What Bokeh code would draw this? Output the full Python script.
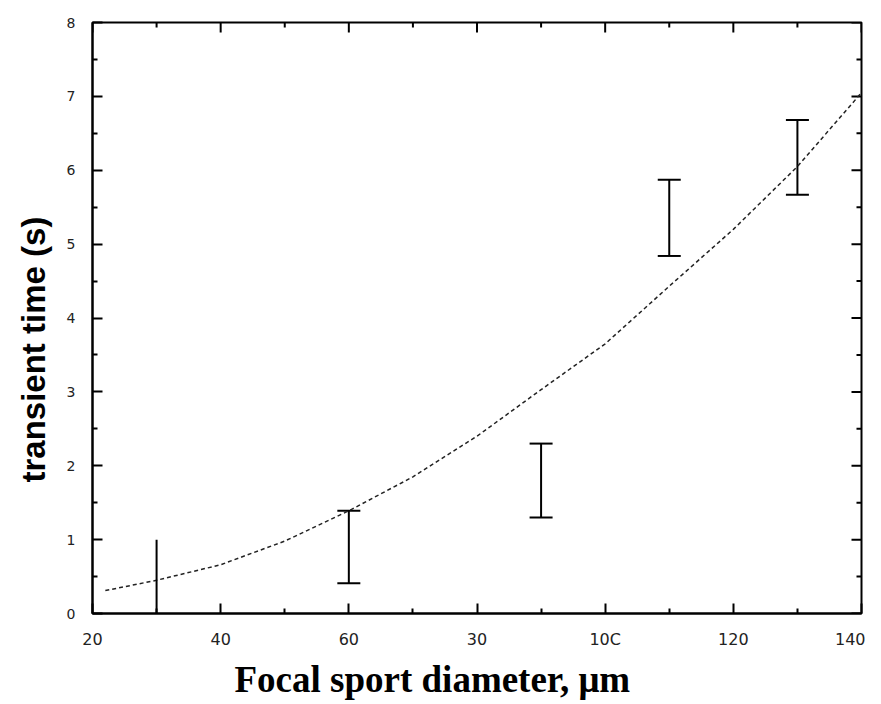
import numpy as np
from bokeh.plotting import figure
from bokeh.models import (Range1d, FixedTicker, LinearAxis, Whisker, TeeHead,
                          ColumnDataSource, Title)
from bokeh.embed import file_html
from bokeh.resources import INLINE

# ---- data ----
curve_x = [22, 30, 40, 50, 60, 70, 80, 90, 100, 110, 120, 130, 140]
curve_y = [0.31, 0.45, 0.66, 0.98, 1.39, 1.85, 2.40, 3.03, 3.65, 4.43, 5.20, 6.05, 7.05]

bar_x = [60, 90, 110, 130]
bar_lower = [0.41, 1.30, 4.84, 5.67]
bar_upper = [1.39, 2.30, 5.87, 6.68]

first_bar_x = [30]
first_bar_lower = [0.0]
first_bar_upper = [1.0]

x_ticks = [20, 40, 60, 80, 100, 120, 140]
x_tick_labels = ["20", "40", "60", "30", "10C", "120", "140"]
x_minor = [30, 50, 70, 90, 110, 130]
y_ticks = [0, 1, 2, 3, 4, 5, 6, 7, 8]
y_minor = [0.5, 1.5, 2.5, 3.5, 4.5, 5.5, 6.5, 7.5]

x_title = "Focal sport diameter, \u03bcm"
y_title = "transient time (s)"

X0, X1, Y0, Y1 = 20, 140, 0, 8

p = figure(width=865, height=704, output_backend="svg", toolbar_location=None,
           x_range=Range1d(X0, X1), y_range=Range1d(Y0, Y1),
           min_border_left=92, min_border_top=22, min_border_right=4,
           min_border_bottom=91)
p.xaxis.visible = False
p.yaxis.visible = False
p.grid.visible = False
p.outline_line_color = "black"
p.outline_line_width = 2
p.background_fill_color = "white"
p.border_fill_color = "white"


def style_axis(ax, font_size, standoff):
    ax.axis_line_color = "black"
    ax.axis_line_width = 2
    ax.major_tick_in = 10
    ax.major_tick_out = 0
    ax.minor_tick_in = 5
    ax.minor_tick_out = 0
    ax.major_tick_line_width = 2
    ax.minor_tick_line_width = 2
    ax.major_tick_line_color = "black"
    ax.minor_tick_line_color = "black"
    ax.major_label_text_font = "DejaVu Sans"
    ax.major_label_text_font_size = font_size
    ax.major_label_text_color = "#222222"
    ax.major_label_standoff = standoff


bottom = LinearAxis(ticker=FixedTicker(ticks=x_ticks, minor_ticks=x_minor))
bottom.major_label_overrides = {t: l for t, l in zip(x_ticks, x_tick_labels)}
style_axis(bottom, "16px", 16)
p.add_layout(bottom, "below")

left = LinearAxis(ticker=FixedTicker(ticks=y_ticks, minor_ticks=y_minor))
style_axis(left, "14px", 17)
p.add_layout(left, "left")

# mirrored inward ticks on top and right edges (half of each dash lies inside the frame)
p.scatter(x=x_ticks, y=[Y1] * len(x_ticks), marker="dash", size=20, angle=np.pi / 2,
          line_color="black", line_width=2)
p.scatter(x=x_minor, y=[Y1] * len(x_minor), marker="dash", size=10, angle=np.pi / 2,
          line_color="black", line_width=2)
p.scatter(x=[X1] * len(y_ticks), y=y_ticks, marker="dash", size=20,
          line_color="black", line_width=2)
p.scatter(x=[X1] * len(y_minor), y=y_minor, marker="dash", size=10,
          line_color="black", line_width=2)

# fitted curve
p.line(curve_x, curve_y, line_color="#222222", line_width=1.5, line_dash="4 3")

# error bars with caps
src = ColumnDataSource(dict(x=bar_x, lower=bar_lower, upper=bar_upper))
w = Whisker(source=src, base="x", lower="lower", upper="upper",
            line_color="black", line_width=2,
            upper_head=TeeHead(size=23, line_width=2, line_color="black"),
            lower_head=TeeHead(size=23, line_width=2, line_color="black"))
p.add_layout(w)

# first bar without caps
p.segment(x0=first_bar_x, y0=first_bar_lower, x1=first_bar_x, y1=first_bar_upper,
          line_color="black", line_width=2)

# axis titles
p.add_layout(Title(text=x_title, align="left", offset=142, standoff=10,
                   text_font="Liberation Serif", text_font_style="bold",
                   text_font_size="37px", text_color="black"), "below")
p.add_layout(Title(text=y_title, align="left", offset=131, standoff=24,
                   text_font="Liberation Sans", text_font_style="bold",
                   text_font_size="33px", text_color="black"), "left")

open("out.html", "w").write(file_html(p, INLINE))
